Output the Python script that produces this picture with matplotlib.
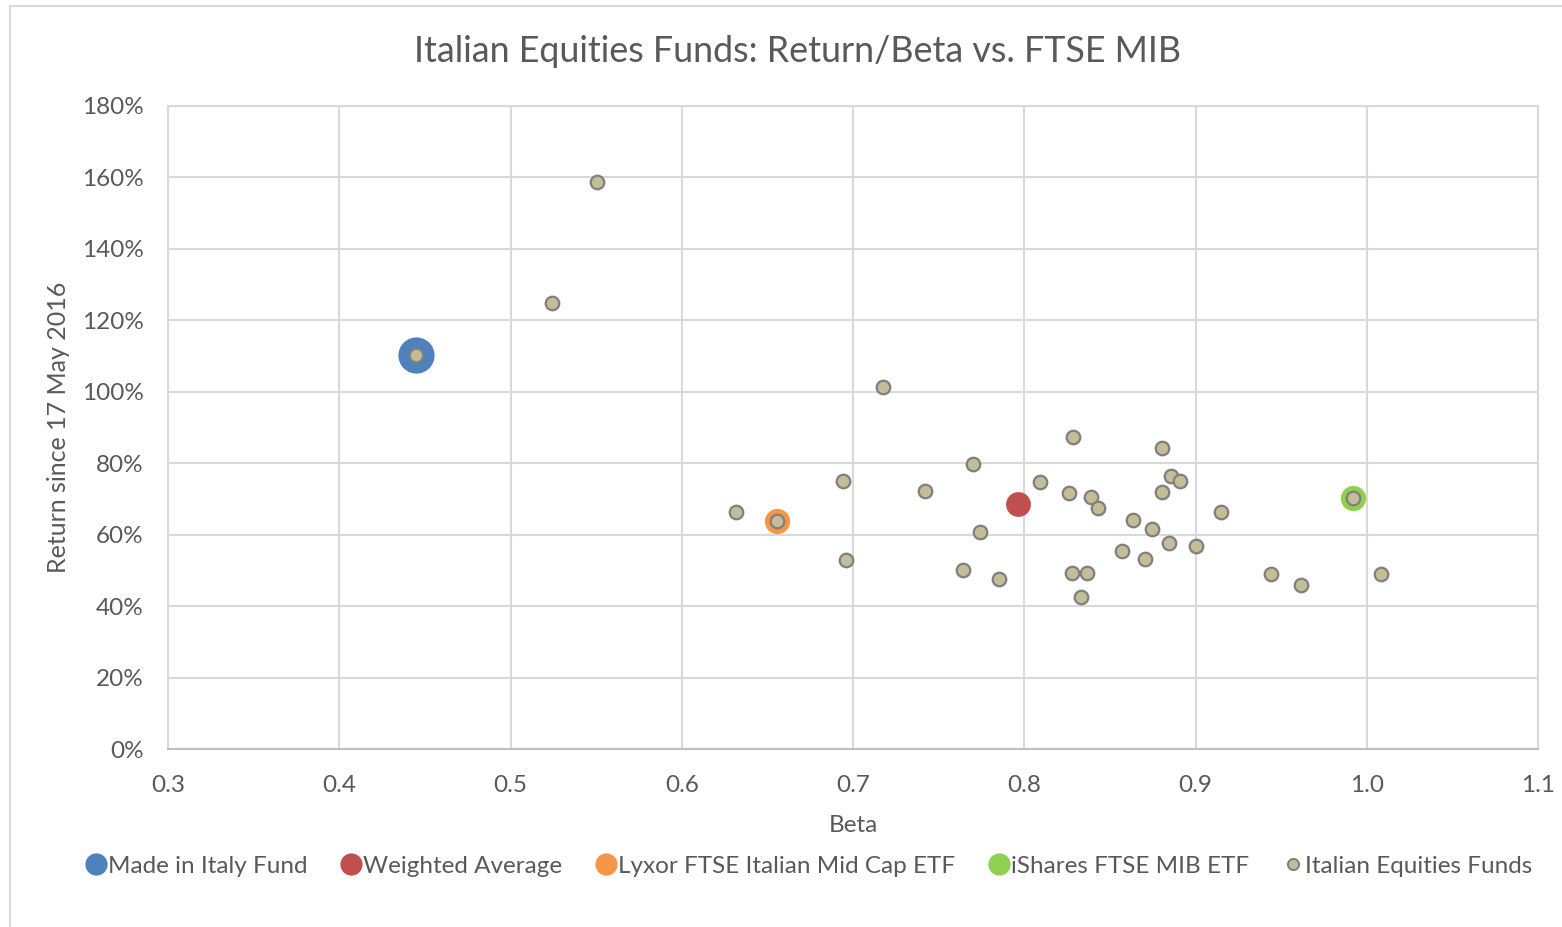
import matplotlib
matplotlib.use("Agg")
import matplotlib.pyplot as plt
from matplotlib.patches import Rectangle
from matplotlib.lines import Line2D
from matplotlib.ticker import FuncFormatter, MultipleLocator

plt.rcParams['font.family'] = ['Lato', 'DejaVu Sans']

# ---- data ----
made_in_italy_beta = [0.4446]
made_in_italy_ret = [1.104]
weighted_avg_beta = [0.7965]
weighted_avg_ret = [0.687]
lyxor_beta = [0.6558]
lyxor_ret = [0.639]
ishares_beta = [0.9920]
ishares_ret = [0.704]

funds_beta = [0.5503, 0.5241, 0.4446, 0.7177, 0.8285, 0.8806, 0.7701, 0.6940,
              0.8094, 0.8855, 0.8910, 0.7420, 0.8263, 0.8388, 0.8806, 0.8431,
              0.6315, 0.6558, 0.9146, 0.8637, 0.8744, 0.7742, 0.8847, 0.9003,
              0.8571, 0.8703, 0.6961, 0.7644, 0.7853, 0.8279, 0.8368, 0.8333,
              0.9441, 0.9616, 1.0081, 0.9920]
funds_ret = [1.588, 1.248, 1.104, 1.014, 0.873, 0.844, 0.797, 0.750,
             0.747, 0.763, 0.751, 0.723, 0.717, 0.706, 0.720, 0.675,
             0.663, 0.639, 0.663, 0.640, 0.617, 0.607, 0.577, 0.569,
             0.553, 0.533, 0.530, 0.500, 0.476, 0.494, 0.494, 0.426,
             0.490, 0.459, 0.490, 0.704]

x_ticks = [0.3, 0.4, 0.5, 0.6, 0.7, 0.8, 0.9, 1.0, 1.1]

W, H = 1562, 927
fig = plt.figure(figsize=(W / 100, H / 100), dpi=100)
fig.patch.set_facecolor('white')

# chart border (Excel chart area)
fig.add_artist(Rectangle((10 / W, -0.01), 1.2, (1 - 6 / H) + 0.01,
                         transform=fig.transFigure, fill=False,
                         edgecolor='#d9d9d9', linewidth=1.5))

ax = fig.add_axes([168 / W, 1 - 749 / H, (1538 - 168) / W, (749 - 106) / H])
ax.set_xlim(0.3, 1.1)
ax.set_ylim(0, 1.8)
ax.set_xticks(x_ticks)
ax.xaxis.set_major_formatter(FuncFormatter(lambda v, p: f"{v:.1f}"))
ax.yaxis.set_major_locator(MultipleLocator(0.2))
ax.yaxis.set_major_formatter(FuncFormatter(lambda v, p: f"{v*100:.0f}%"))
ax.grid(True, color='#d9d9d9', linewidth=1.5, zorder=0)
ax.set_axisbelow(True)
for s in ax.spines.values():
    s.set_color('#d9d9d9')
    s.set_linewidth(1.5)
ax.spines['bottom'].set_color('#bfbfbf')
ax.tick_params(length=0, labelsize=17.5, colors='#595959')
ax.tick_params(axis='y', pad=17.5)
ax.tick_params(axis='x', pad=19)

ax.scatter(made_in_italy_beta, made_in_italy_ret, s=680, color='#4f81bd',
           linewidths=0, zorder=3, label='Made in Italy Fund')
ax.scatter(weighted_avg_beta, weighted_avg_ret, s=320, color='#c0504d',
           linewidths=0, zorder=3, label='Weighted Average')
ax.scatter(lyxor_beta, lyxor_ret, s=330, color='#f79646',
           linewidths=0, zorder=3, label='Lyxor FTSE Italian Mid Cap ETF')
ax.scatter(ishares_beta, ishares_ret, s=330, color='#8fd14f',
           linewidths=0, zorder=3, label='iShares FTSE MIB ETF')
ax.scatter(funds_beta, funds_ret, s=95, color='#c4bd97', edgecolors='#7f7f7f',
           linewidths=1.6, zorder=4, label='Italian Equities Funds')

fig.text(797 / W, 1 - 51 / H, 'Italian Equities Funds: Return/Beta vs. FTSE MIB',
         ha='center', va='center', fontsize=25.8, color='#595959')
fig.text(853 / W, 1 - 826 / H, 'Beta', ha='center', va='center',
         fontsize=17.5, color='#595959')
fig.text(59 / W, 1 - 427 / H, 'Return since 17 May 2016', rotation=90,
         ha='center', va='center', fontsize=18, color='#595959')

handles = [
    Line2D([], [], marker='o', linestyle='', markersize=16, markerfacecolor='#4f81bd', markeredgewidth=0),
    Line2D([], [], marker='o', linestyle='', markersize=16, markerfacecolor='#c0504d', markeredgewidth=0),
    Line2D([], [], marker='o', linestyle='', markersize=16, markerfacecolor='#f79646', markeredgewidth=0),
    Line2D([], [], marker='o', linestyle='', markersize=16, markerfacecolor='#8fd14f', markeredgewidth=0),
    Line2D([], [], marker='o', linestyle='', markersize=8, markerfacecolor='#c4bd97',
           markeredgecolor='#7f7f7f', markeredgewidth=1.4),
]
labels = ['Made in Italy Fund', 'Weighted Average', 'Lyxor FTSE Italian Mid Cap ETF',
          'iShares FTSE MIB ETF', 'Italian Equities Funds']
leg = fig.legend(handles, labels, loc='center', bbox_to_anchor=(808 / W, 1 - 866 / H),
                 ncol=5, frameon=False, fontsize=17.5, handletextpad=0.0,
                 columnspacing=1.3, handlelength=1.0, labelcolor='#595959')

fig.savefig('out.png', dpi=100, facecolor='white')
